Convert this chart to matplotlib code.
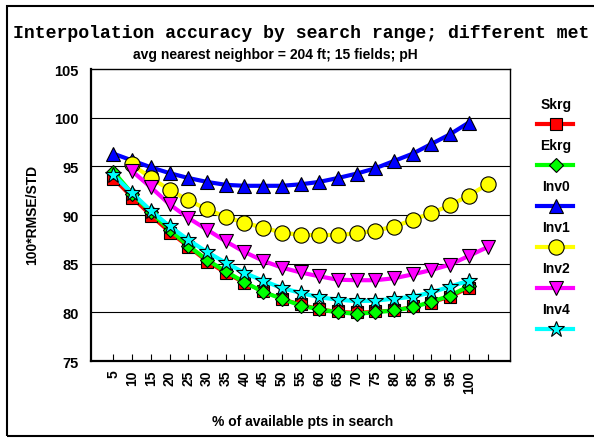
import numpy as np
import matplotlib
matplotlib.use('Agg')
import matplotlib.pyplot as plt
from matplotlib.lines import Line2D
from matplotlib.patches import Rectangle

# % of available points in search (category 105 is an unlabeled extra slot)
pct = [5, 10, 15, 20, 25, 30, 35, 40, 45, 50, 55, 60, 65, 70, 75, 80, 85, 90, 95, 100]
pctShift = [10, 15, 20, 25, 30, 35, 40, 45, 50, 55, 60, 65, 70, 75, 80, 85, 90, 95, 100, 105]
tickPos = [5, 10, 15, 20, 25, 30, 35, 40, 45, 50, 55, 60, 65, 70, 75, 80, 85, 90, 95, 100, 105]
tickLabels = ['5', '10', '15', '20', '25', '30', '35', '40', '45', '50', '55', '60', '65', '70',
              '75', '80', '85', '90', '95', '100', '']

skrg = [93.7, 91.75, 89.9, 88.2, 86.7, 85.2, 84.0, 83.0, 82.15, 81.4, 80.85, 80.35, 80.1, 80.0,
        80.1, 80.25, 80.6, 81.0, 81.55, 82.5]
ekrg = [94.45, 92.2, 90.3, 88.5, 86.85, 85.4, 84.2, 83.1, 82.1, 81.4, 80.7, 80.3, 80.0, 79.85,
        80.0, 80.2, 80.5, 81.1, 81.7, 82.7]
inv0 = [96.3, 95.6, 94.9, 94.3, 93.8, 93.4, 93.1, 93.0, 93.0, 93.0, 93.15, 93.4, 93.8, 94.25,
        94.8, 95.55, 96.3, 97.3, 98.3, 99.5]
inv1 = [95.2, 93.8, 92.6, 91.5, 90.6, 89.8, 89.2, 88.7, 88.2, 87.95, 87.95, 87.95, 88.1, 88.4,
        88.8, 89.5, 90.2, 91.0, 92.0, 93.15]
inv2 = [94.5, 92.85, 91.1, 89.7, 88.5, 87.3, 86.2, 85.3, 84.6, 84.1, 83.7, 83.35, 83.3, 83.3,
        83.5, 83.9, 84.35, 84.9, 85.8, 86.7]
inv4 = [94.1, 92.25, 90.45, 88.85, 87.45, 86.2, 85.1, 84.05, 83.25, 82.5, 82.0, 81.55, 81.3, 81.15,
        81.2, 81.4, 81.6, 82.05, 82.65, 83.25]

series = [
    ('Skrg', pct, skrg, '#ff0000', 's', 9),
    ('Ekrg', pct, ekrg, '#00ff00', 'D', 7),
    ('Inv0', pct, inv0, '#0000ff', '^', 10),
    ('Inv1', pctShift, inv1, '#ffff00', 'o', 11),
    ('Inv2', pctShift, inv2, '#ff00ff', 'v', 10),
    ('Inv4', pct, inv4, '#00ffff', '*', 12),
]

W, H = 594, 439
fig = plt.figure(figsize=(W / 100, H / 100), dpi=100)
ax = fig.add_axes([91 / W, 1 - 362 / H, (510 - 91) / W, (362 - 70) / H])

for name, xs, ys, col, mk, ms in series:
    lw = 2.2 if name == 'Skrg' else 3
    ax.plot(xs, ys, color=col, lw=lw, marker=mk, ms=ms, mfc=col, mec='black', mew=0.8,
            zorder=3)

ax.set_xlim(-1, 111)
ax.set_ylim(75, 105)
ax.set_yticks(np.arange(75, 106, 5))
for yv in [80, 85, 90, 95, 100]:
    ax.axhline(yv, color='black', lw=0.8, zorder=1)

ax.set_xticks(tickPos)
ax.set_xticklabels(tickLabels, rotation=90, fontsize=10, fontweight='bold',
                   family='Liberation Sans')
ax.tick_params(axis='x', direction='in', length=5, width=0.8, pad=6)
ax.tick_params(axis='y', length=0, pad=9)
for lab in ax.get_yticklabels():
    lab.set_fontsize(10.5)
    lab.set_fontweight('bold')
    lab.set_family('Liberation Sans')

for s in ['left', 'bottom']:
    ax.spines[s].set_linewidth(1.6)
for s in ['top', 'right']:
    ax.spines[s].set_linewidth(1.0)

# y label and x label
fig.text(32 / W, 1 - 215 / H, '100*RMSE/STD', rotation=90, ha='center', va='center',
         fontsize=10, fontweight='bold', family='Liberation Sans')
fig.text(303 / W, 1 - 422 / H, '% of available pts in search', ha='center', va='center',
         fontsize=10, fontweight='bold', family='Liberation Sans')

# titles
fig.text(13 / W, 1 - 33 / H, 'Interpolation accuracy by search range; different met',
         ha='left', va='center', fontsize=13.1, fontweight='bold', family='Liberation Mono')
fig.text(275 / W, 1 - 55 / H, 'avg nearest neighbor = 204 ft; 15 fields; pH',
         ha='center', va='center', fontsize=10, fontweight='bold', family='Liberation Sans')

# legend: label above each line sample
for i, (name, xs, ys, col, mk, ms) in enumerate(series):
    ty = 105 + 41 * i
    ly = 124.5 + 41 * i
    fig.text(556 / W, 1 - ty / H, name, ha='center', va='center', fontsize=10,
             fontweight='bold', family='Liberation Sans')
    fig.add_artist(Line2D([537 / W, 573 / W], [1 - ly / H, 1 - ly / H], color=col, lw=3,
                          transform=fig.transFigure))
    fig.add_artist(Line2D([556 / W], [1 - ly / H], color=col, marker=mk, ms=ms, mfc=col,
                          mec='black', mew=0.8, transform=fig.transFigure))

# outer frame
fig.add_artist(Rectangle((7 / W, 1 - 437 / H), 1.2, (437 - 7) / H, fill=False,
                         edgecolor='black', lw=1.5, transform=fig.transFigure))

fig.savefig('out.png', dpi=100)
